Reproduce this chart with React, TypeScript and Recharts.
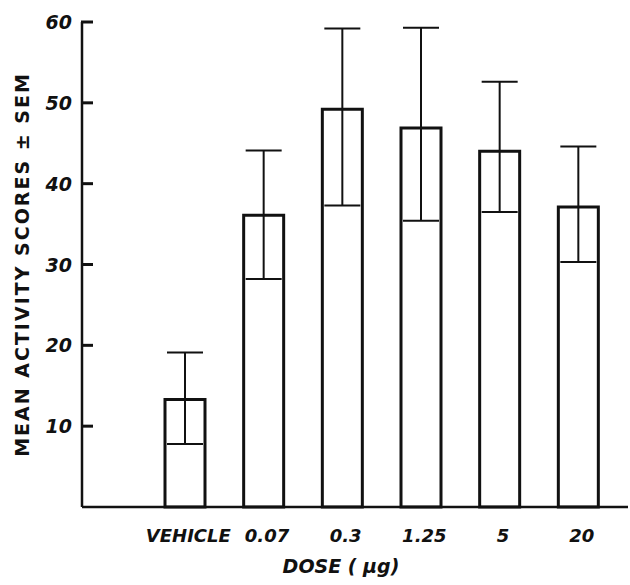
import { BarChart, Bar, XAxis, YAxis, ErrorBar, Label } from 'recharts'

const DOSES = ['VEHICLE', '0.07', '0.3', '1.25', '5', '20']
const MEANS = [13.3, 36.1, 49.2, 46.9, 44.0, 37.1]
const SEM_LOW = [7.8, 28.2, 37.3, 35.4, 36.5, 30.3]
const SEM_HIGH = [19.1, 44.1, 59.2, 59.3, 52.6, 44.6]
const Y_TICKS = [10, 20, 30, 40, 50, 60]

const data = DOSES.map((dose, i) => ({
  dose,
  mean: MEANS[i],
  err: [MEANS[i] - SEM_LOW[i], SEM_HIGH[i] - MEANS[i]],
}))

const FONT = '"DejaVu Sans", Verdana, sans-serif'
const INK = '#111'

// tick marks point into the plot, like the original figure
// eslint-disable-next-line @typescript-eslint/no-explicit-any
function YTick({ x, y, payload }: any) {
  return (
    <g>
      <path d={`M${x + 9},${y}H${x + 21}`} stroke={INK} strokeWidth={3} fill="none" />
      <text x={x} y={y} textAnchor="end" dominantBaseline="central"
        fontFamily={FONT} fontWeight={700} fontStyle="italic" fontSize={19} fill={INK}>
        {payload.value}
      </text>
    </g>
  )
}

// eslint-disable-next-line @typescript-eslint/no-explicit-any
function XTick({ x, y, payload }: any) {
  return (
    <text x={x + 3} y={y + 28} textAnchor="middle" dominantBaseline="central"
      fontFamily={FONT} fontWeight={700} fontStyle="italic" fontSize={18} fill={INK}>
      {payload.value}
    </text>
  )
}

export default function App() {
  return (
    <div style={{ position: 'absolute', left: 0, top: 0, background: '#fff' }}>
      <BarChart width={630} height={585} data={data}
        margin={{ top: 22, right: 2, left: 0, bottom: 0 }}>
        <YAxis
          width={82}
          domain={[0, 60]}
          ticks={Y_TICKS}
          interval={0}
          tickSize={0}
          tickMargin={10}
          tickLine={false}
          axisLine={{ stroke: INK, strokeWidth: 2.5 }}
          tick={<YTick />}
        >
          <Label
            content={({ viewBox }: any) => {
              const cx = viewBox.x + 22
              const cy = viewBox.y + viewBox.height / 2
              return (
                <text x={cx} y={cy} transform={`rotate(-90 ${cx} ${cy})`}
                  textAnchor="middle" dominantBaseline="central"
                  fontFamily={FONT} fontWeight={700} fontSize={19} fill={INK}
                  letterSpacing={2}>
                  MEAN ACTIVITY SCORES ± SEM
                </text>
              )
            }}
          />
        </YAxis>
        <XAxis
          dataKey="dose"
          height={78}
          interval={0}
          tickSize={0}
          tickMargin={0}
          tickLine={false}
          padding={{ left: 64, right: 10 }}
          axisLine={{ stroke: INK, strokeWidth: 2.5 }}
          tick={<XTick />}
        >
          <Label
            content={({ viewBox }: any) => (
              <text x={viewBox.x + 259} y={viewBox.y + 59}
                textAnchor="middle" dominantBaseline="central"
                fontFamily={FONT} fontWeight={700} fontStyle="italic" fontSize={19} fill={INK}>
                DOSE ( µg)
              </text>
            )}
          />
        </XAxis>
        <Bar dataKey="mean" barSize={40} fill="#fff" stroke={INK} strokeWidth={3}
          isAnimationActive={false}>
          <ErrorBar dataKey="err" width={18} stroke={INK} strokeWidth={2}
            isAnimationActive={false} />
        </Bar>
      </BarChart>
    </div>
  )
}
